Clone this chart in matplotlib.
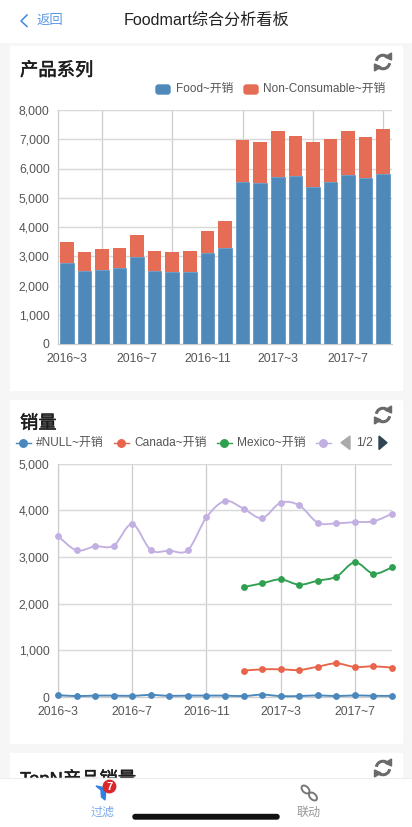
import matplotlib
matplotlib.use("Agg")
import matplotlib.pyplot as plt
import matplotlib.patheffects as mpe
from matplotlib.patches import Rectangle, FancyBboxPatch, Circle, Polygon, Arc, PathPatch, Ellipse
from matplotlib.path import Path

plt.rcParams['font.family'] = ['Liberation Sans', 'Noto Sans CJK SC', 'DejaVu Sans']

# Data
months = ['2016~3', '2016~4', '2016~5', '2016~6', '2016~7', '2016~8', '2016~9', '2016~10',
          '2016~11', '2016~12', '2017~1', '2017~2', '2017~3', '2017~4', '2017~5', '2017~6',
          '2017~7', '2017~8', '2017~9']
food = [2780, 2507, 2518, 2610, 2986, 2507, 2473, 2461, 3122, 3293,
        5527, 5516, 5721, 5755, 5379, 5550, 5789, 5687, 5812]
non_consumable = [696, 650, 730, 661, 740, 684, 684, 719, 753, 924,
                  1436, 1390, 1561, 1345, 1527, 1470, 1504, 1401, 1527]
null_sales = [40, 20, 30, 30, 25, 45, 25, 30, 30, 30, 20, 50, 20, 20, 35, 20, 35, 25, 25]
canada_sales = [564, 593, 593, 579, 650, 721, 643, 657, 629]
mexico_sales = [2357, 2436, 2521, 2407, 2493, 2579, 2886, 2643, 2779]
usa_sales = [3450, 3143, 3229, 3243, 3707, 3150, 3136, 3150, 3850, 4200,
             4036, 3836, 4164, 4107, 3736, 3721, 3750, 3764, 3929]
bar_yticks = [0, 1000, 2000, 3000, 4000, 5000, 6000, 7000, 8000]
line_yticks = [0, 1000, 2000, 3000, 4000, 5000]

W, H = 412, 827
BLUE, RED, GREEN, PURPLE = '#4f89b9', '#e56d55', '#2fa04f', '#c2b0e2'
LINE_BLUE, LINE_RED = '#4a87bd', '#e8644a'
GRID = '#d9d9d9'
VGRID = '#cdcdcd'
TICK = '#555555'
# the panel titles are medium weight in the reference, regular plus a thin stroke gets close
MEDIUM = [mpe.withStroke(linewidth=0.35, foreground='#1c1c1c')]


def add_chart(left, top, right, bottom):
    ax = fig.add_axes([left / W, 1 - bottom / H, (right - left) / W, (bottom - top) / H])
    ax.set_facecolor('none')
    for name in ['top', 'right']:
        ax.spines[name].set_visible(False)
    for name in ['left', 'bottom']:
        ax.spines[name].set_color(VGRID)
        ax.spines[name].set_linewidth(0.9)
    ax.tick_params(which='both', length=0, labelsize=8.7, labelcolor=TICK)
    ax.tick_params(axis='x', pad=6.5)
    ax.tick_params(axis='y', pad=6)
    ax.set_axisbelow(True)
    return ax


def smooth_line(ax, xs, ys, color):
    # catmull-rom through the points, close to what the original chart lib does
    verts = [(xs[0], ys[0])]
    codes = [Path.MOVETO]
    n = len(xs)
    for i in range(n - 1):
        p0 = i - 1 if i > 0 else i
        p3 = i + 2 if i + 2 < n else i + 1
        c1 = (xs[i] + (xs[i + 1] - xs[p0]) / 6, ys[i] + (ys[i + 1] - ys[p0]) / 6)
        c2 = (xs[i + 1] - (xs[p3] - xs[i]) / 6, ys[i + 1] - (ys[p3] - ys[i]) / 6)
        verts += [c1, c2, (xs[i + 1], ys[i + 1])]
        codes += [Path.CURVE4] * 3
    ax.add_patch(PathPatch(Path(verts, codes), fill=False, edgecolor=color, lw=1.35, zorder=3, clip_on=False))
    ax.plot(xs, ys, ls='none', marker='o', ms=3.9, color=color, mec=color, zorder=4, clip_on=False)


def refresh_icon(cx, cy):
    bg.add_patch(Arc((cx, cy), 13.5, 13.5, theta1=190, theta2=320, color='#6a6a6a', lw=2.2))
    bg.add_patch(Arc((cx, cy), 13.5, 13.5, theta1=10, theta2=140, color='#6a6a6a', lw=2.2))
    bg.add_patch(Polygon([(cx + 2, cy - 5), (cx + 8.5, cy - 9), (cx + 8.5, cy - 2)], color='#6a6a6a'))
    bg.add_patch(Polygon([(cx - 2, cy + 5), (cx - 8.5, cy + 9), (cx - 8.5, cy + 2)], color='#6a6a6a'))


fig = plt.figure(figsize=(W / 100, H / 100), dpi=100, facecolor='#f6f6f6')

# page furniture in pixel coordinates
bg = fig.add_axes([0, 0, 1, 1])
bg.set_xlim(0, W)
bg.set_ylim(H, 0)
bg.axis('off')

bg.add_patch(Rectangle((0, 0), W, 42, color='white'))
for y0, y1 in [(46, 390), (400, 743), (753, 800)]:
    bg.add_patch(Rectangle((10, y0), 392, y1 - y0, color='white'))

bg.plot([27, 21, 27], [15, 21, 26.5], color='#3f86e0', lw=1.1)
bg.text(37, 20.5, '返回', fontsize=9.6, color='#5a98e6', va='center')
bg.text(206, 20.5, 'Foodmart综合分析看板', fontsize=11.6, color='#222222', va='center', ha='center')

for y, title in [(71, '产品系列'), (424, '销量'), (779, 'TopN产品销量')]:
    bg.text(20, y, title, fontsize=13.2, color='#1c1c1c', va='center', path_effects=MEDIUM)
refresh_icon(383, 62)
refresh_icon(383, 415)
refresh_icon(383, 768)

# legend of the bar chart
bg.add_patch(FancyBboxPatch((156, 85), 14, 9, boxstyle='round,pad=0,rounding_size=2.5', color=BLUE))
bg.text(176, 89, 'Food~开销', fontsize=8.5, color=TICK, va='center')
bg.add_patch(FancyBboxPatch((244, 85), 14, 9, boxstyle='round,pad=0,rounding_size=2.5', color=RED))
bg.text(263.5, 89, 'Non-Consumable~开销', fontsize=8.5, color=TICK, va='center')

# legend of the line chart, second page arrows included
for x0, color, label in [(16, LINE_BLUE, '#NULL~开销'), (114, LINE_RED, 'Canada~开销'),
                         (217, GREEN, 'Mexico~开销'), (316, PURPLE, '')]:
    bg.plot([x0, x0 + 15], [442.7, 442.7], color=color, lw=1.0)
    bg.plot([x0 + 7.5], [442.7], marker='o', ms=5.4, color=color)
    if label:
        bg.text(x0 + 20, 442.7, label, fontsize=8.6, color=TICK, va='center')
bg.add_patch(Polygon([(350, 436), (350, 449.5), (341, 442.7)], color='#aaaaaa'))
bg.text(356, 442.7, '1/2', fontsize=8.7, color=TICK, va='center')
bg.add_patch(Polygon([(379, 436), (379, 449.5), (387, 442.7)], color='#2f4554'))

# bar chart
ax1 = add_chart(58, 110, 392, 344)
positions = list(range(len(months)))
ax1.bar(positions, food, width=0.77, color=BLUE, edgecolor='#4683b6', linewidth=0.4, zorder=3, label='Food~开销')
ax1.bar(positions, non_consumable, width=0.77, bottom=food, color=RED, zorder=3, label='Non-Consumable~开销')
ax1.set_xlim(-0.5, len(months) - 0.5)
ax1.set_ylim(0, 8000)
ax1.set_yticks(bar_yticks, [f'{v:,}' for v in bar_yticks])
ax1.set_xticks(positions[::4], months[::4])
ax1.set_xticks(positions[2::4], minor=True)
ax1.grid(axis='y', color=GRID, lw=1.05)
ax1.grid(axis='x', which='minor', color=VGRID, lw=0.9)

# line chart
ax2 = add_chart(58, 463.7, 392, 697)
ax2.set_xlim(0, len(months) - 1)
ax2.set_ylim(0, 5000)
ax2.set_yticks(line_yticks, [f'{v:,}' for v in line_yticks])
ax2.set_xticks(positions[::4], months[::4])
ax2.grid(axis='y', color=GRID, lw=1.05)
ax2.grid(axis='x', color=VGRID, lw=0.9)
smooth_line(ax2, positions, usa_sales, PURPLE)
smooth_line(ax2, positions[10:], mexico_sales, GREEN)
smooth_line(ax2, positions[10:], canada_sales, LINE_RED)
smooth_line(ax2, positions, null_sales, LINE_BLUE)

# bottom tab bar sits over everything
tab = fig.add_axes([0, 0, 1, 1])
tab.set_xlim(0, W)
tab.set_ylim(H, 0)
tab.axis('off')
tab.set_facecolor('none')
tab.add_patch(Rectangle((0, 778), W, H - 778, color='white', zorder=1))
tab.plot([0, W], [778, 778], color='#eeeeee', lw=0.8, zorder=2)
tab.add_patch(Polygon([(96, 786), (106, 788), (105, 800), (101.5, 797), (101, 790)], color='#2f80e4', zorder=2))
tab.add_patch(Circle((109.5, 786.5), 6.2, color='#d9282b', zorder=3))
tab.text(109.5, 786.5, '7', fontsize=8, color='white', ha='center', va='center', fontweight='bold', zorder=4)
tab.text(103, 813, '过滤', fontsize=8.7, color='#7aa9e8', ha='center', va='center', zorder=2)
tab.add_patch(Ellipse((305.5, 789.5), 9.5, 6, angle=45, fill=False, edgecolor='#777777', lw=1.4, zorder=2))
tab.add_patch(Ellipse((313, 796.5), 9.5, 6, angle=45, fill=False, edgecolor='#777777', lw=1.4, zorder=2))
tab.text(309, 813, '联动', fontsize=8.7, color='#999999', ha='center', va='center', zorder=2)
tab.add_patch(FancyBboxPatch((133, 814.5), 146, 4.5, boxstyle='round,pad=0,rounding_size=2.2', color='#111111', zorder=5))

fig.savefig('out.png', dpi=100)
